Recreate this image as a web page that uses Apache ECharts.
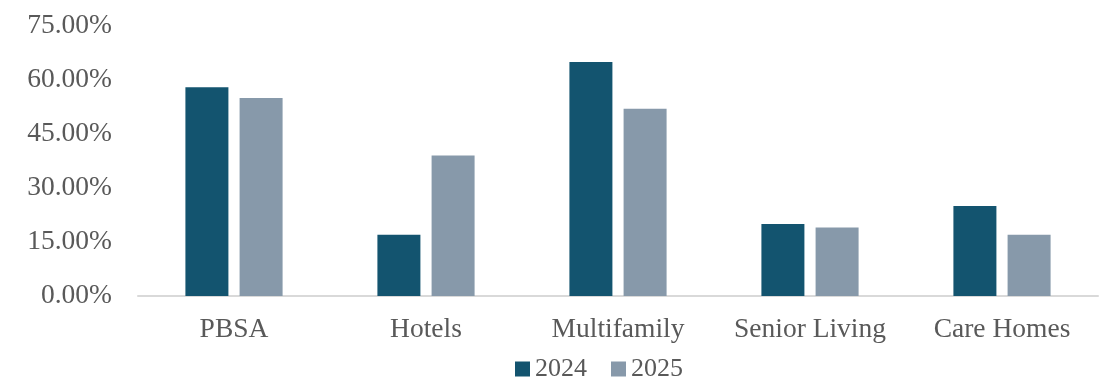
<!DOCTYPE html>
<html><head><meta charset="utf-8">
<script src="https://cdn.jsdelivr.net/npm/echarts@6/dist/echarts.min.js"></script>
<style>html,body{margin:0;padding:0;background:#fff}#c{width:1100px;height:378px}</style>
</head><body><div id="c"></div>
<script>
const categories = ['PBSA', 'Hotels', 'Multifamily', 'Senior Living', 'Care Homes'];
const values2024 = [58, 17, 65, 20, 25];
const values2025 = [55, 39, 52, 19, 17];
const seriesNames = ['2024', '2025'];
const FONT = '"Liberation Serif", "DejaVu Serif", serif';
const chart = echarts.init(document.getElementById('c'));
chart.setOption({
  animation: false,
  backgroundColor: '#fff',
  textStyle: { fontFamily: FONT },
  grid: { left: 138, right: 2, top: 26, bottom: 82, containLabel: false },
  legend: {
    data: seriesNames, top: 351, left: 510, itemWidth: 15, itemHeight: 15, itemGap: 24,
    icon: 'rect',
    textStyle: { fontFamily: FONT, fontSize: 26, color: '#595959' }
  },
  xAxis: {
    type: 'category', data: categories,
    axisLine: { lineStyle: { color: '#d9d9d9', width: 2 } },
    axisTick: { show: false },
    axisLabel: { fontFamily: FONT, fontSize: 27.5, color: '#595959', margin: 20, interval: 0, hideOverlap: false }
  },
  yAxis: {
    type: 'value', min: 0, max: 75, interval: 15,
    splitLine: { show: false },
    axisLine: { show: false }, axisTick: { show: false },
    axisLabel: { fontFamily: FONT, fontSize: 27.5, color: '#595959', margin: 26,
      formatter: v => v.toFixed(2) + '%' }
  },
  series: [
    { name: seriesNames[0], type: 'bar', data: values2024, barWidth: 43, barGap: '26%',
      itemStyle: { color: '#13546f' } },
    { name: seriesNames[1], type: 'bar', data: values2025, barWidth: 43, barGap: '26%',
      itemStyle: { color: '#8799aa' } }
  ]
});
</script></body></html>
